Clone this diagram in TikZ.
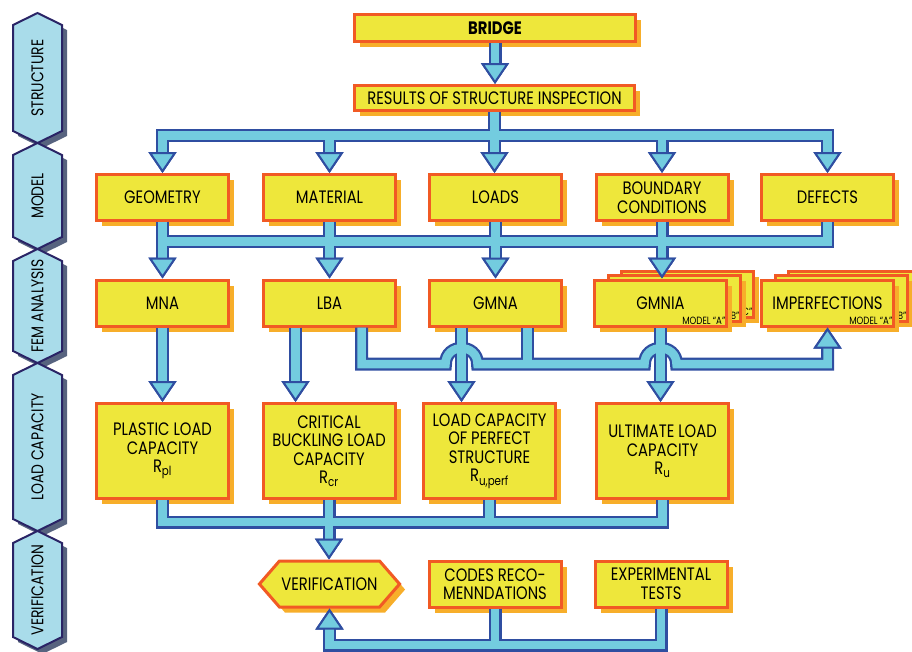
\documentclass[tikz,border=0pt]{standalone}
\usepackage{fontspec}
\setmainfont{Poppins}[FakeStretch=0.82]
\usetikzlibrary{arrows.meta,shadows,shapes.symbols,calc}

\definecolor{boxfill}{HTML}{EEE73B}
\definecolor{boxline}{HTML}{F15A24}
\definecolor{boxshade}{HTML}{F7AE2A}
\definecolor{pipefill}{HTML}{73CCDF}
\definecolor{pipeline}{HTML}{2F4EA1}
\definecolor{stagefill}{HTML}{A9DCEA}
\definecolor{stageline}{HTML}{2A2466}
\definecolor{stageshade}{HTML}{57637F}

\tikzset{
  block/.style={rectangle, fill=boxfill, draw=boxline, line width=3pt,
    minimum width=132pt, minimum height=46pt, inner sep=2pt, align=center,
    font=\fontsize{18}{18.5}\selectfont,
    drop shadow={shadow xshift=5.5pt, shadow yshift=-5.5pt, fill=boxshade, opacity=1}},
  tall/.style={minimum height=95pt},
  tag/.style={anchor=south east, inner sep=2.5pt, font=\fontsize{10.5}{10.5}\selectfont},
  stage/.style={draw=stageline, fill=stagefill, line width=2pt},
  stagelabel/.style={rotate=90, font=\fontsize{17}{18}\selectfont},
  pipe outer/.style={draw=pipeline, line width=13pt},
  pipe inner/.style={draw=pipefill, line width=8.5pt},
  pipe arrow/.style={-{Triangle[width=28pt, length=21pt, line width=2pt, color=pipeline, fill=pipefill]}},
  pipe/.style={pipe outer},
}

% one hexagon of the stage column, from top point to bottom point
\newcommand\stagehex[2]{(37.5,#1) -- (62,#1+12) -- (62,#2-12) -- (37.5,#2) -- (13,#2-12) -- (13,#1+12) -- cycle}

% all the blue conduits, drawn twice (border, then fill)
\newcommand\pipework{%
  % structure
  \draw[pipe, pipe arrow] (bridge.south) -- (bridge.south |- results.north);
  \draw[pipe, pipe arrow] (results.south) -- (results.south |- loads.north);
  \draw[pipe, pipe arrow] (results.south |- busA) -| (geometry.north);
  \draw[pipe, pipe arrow] (results.south |- busA) -| (defects.north);
  \draw[pipe, pipe arrow] (material.north |- busA) -- (material.north);
  \draw[pipe, pipe arrow] (boundary.north |- busA) -- (boundary.north);
  % model
  \draw[pipe] (defects.south) |- (geometry.south |- busB);
  \foreach \a/\b in {geometry/mna, material/lba, loads/gmna, boundary/gmnia}
    \draw[pipe, pipe arrow] (\a.south) -- (\a.south |- \b.north);
  % fem analysis
  \draw[pipe, pipe arrow] (mna.south) -- (mna.south |- plastic.north);
  \draw[pipe, pipe arrow] (lbaL) -- (lbaL |- critical.north);
  \draw[pipe, pipe arrow] (gmnaL) -- (gmnaL |- perfect.north);
  \draw[pipe, pipe arrow] (gmnia.south) -- (gmnia.south |- ultimate.north);
  \draw[pipe] (gmnaR) -- (gmnaR |- busC);
  \draw[pipe, pipe arrow] (lbaR) |- ($(hopA)+(-16,0)$)
    .. controls +(0,-21) and +(0,-21) .. ($(hopA)+(16,0)$)
    -- ($(hopB)+(-16,0)$)
    .. controls +(0,-21) and +(0,-21) .. ($(hopB)+(16,0)$)
    -| (imperf.south);
  % load capacity
  \draw[pipe] (plastic.south) |- (ultimate.south |- busD) -- (ultimate.south);
  \draw[pipe] (perfect.south) -- (perfect.south |- busD);
  \draw[pipe, pipe arrow] (critical.south) -- (critical.south |- verification.north);
  % verification
  \draw[pipe, pipe arrow] (experimental.south) |- (verification.south |- busE) -- (verification.south);
  \draw[pipe] (codes.south) -- (codes.south |- busE);
}

\begin{document}
\begin{tikzpicture}[x=1pt, y=-1pt]
  \useasboundingbox (0,0) rectangle (912,651);

  % stage column
  \foreach \ya/\yb in {13/143, 143/249, 249/363, 363/531, 531/649}
    \fill[stageshade, shift={(5,5)}] \stagehex{\ya}{\yb};
  \foreach \ya/\yb/\id/\txt in {13/143/stStructure/STRUCTURE, 143/249/stModel/MODEL,
      249/363/stFem/FEM ANALYSIS, 363/531/stCapacity/LOAD CAPACITY, 531/649/stCheck/VERIFICATION}
  {
    \draw[stage] \stagehex{\ya}{\yb};
    \node[stagelabel] (\id) at (37.5, {(\ya+\yb)/2}) {\txt};
  }

  % structure
  \node[block, minimum width=281pt, minimum height=27pt] (bridge) at (495,28) {\bfseries BRIDGE};
  \node[block, minimum width=280pt, minimum height=25pt] (results) at (494.5,98) {RESULTS OF STRUCTURE INSPECTION};

  % model
  \node[block] (geometry) at (162.5,197.5) {GEOMETRY};
  \node[block] (material) at (329.5,197.5) {MATERIAL};
  \node[block] (loads) at (495.5,197.5) {LOADS};
  \node[block] (boundary) at (662,197.5) {BOUNDARY\\CONDITIONS};
  \node[block] (defects) at (827.5,197.5) {DEFECTS};

  % fem analysis
  \node[block] (mna) at (162.5,303) {MNA};
  \node[block] (lba) at (329.5,303) {LBA};
  \node[block] (gmna) at (495.5,303) {GMNA};
  \foreach \m/\dx/\dy in {C/27/-9, B/14/-5}
    \node[block, label={[tag]south east:``\m''}] (gmnia\m) at ({660.5+\dx},{303+(\dy)}) {};
  \node[block, label={[tag]south east:MODEL ``A''}] (gmnia) at (660.5,303) {GMNIA};
  \foreach \m/\dx/\dy in {C/27/-9, B/14/-5}
    \node[block, label={[tag]south east:``\m''}] (imperf\m) at ({827.5+\dx},{303+(\dy)}) {};
  \node[block, label={[tag]south east:MODEL ``A''}] (imperf) at (827.5,303) {IMPERFECTIONS};

  % load capacity
  \node[block, tall] (plastic) at (162.5,451) {PLASTIC LOAD\\CAPACITY\\R\textsubscript{pl}};
  \node[block, tall] (critical) at (329,451) {CRITICAL\\BUCKLING LOAD\\CAPACITY\\R\textsubscript{cr}};
  \node[block, tall] (perfect) at (489.5,451) {LOAD CAPACITY\\OF PERFECT\\STRUCTURE\\R\textsubscript{u,perf}};
  \node[block, tall] (ultimate) at (662.5,451) {ULTIMATE LOAD\\CAPACITY\\R\textsubscript{u}};

  % verification
  \node[block, signal, signal to=west and east, signal pointer angle=98, minimum width=128pt] (verification) at (329.5,584) {VERIFICATION};
  \node[block] (codes) at (495,584) {CODES RECO-\\MENNDATIONS};
  \node[block] (experimental) at (661,584) {EXPERIMENTAL\\TESTS};

  % conduit levels and branch points
  \coordinate (busA) at (0,135.5);
  \coordinate (busB) at (0,241.5);
  \coordinate (busC) at (0,364);
  \coordinate (busD) at (0,522);
  \coordinate (busE) at (0,645);
  \coordinate (lbaL) at ($(lba.south)+(-34,0)$);
  \coordinate (lbaR) at ($(lba.south)+(32,0)$);
  \coordinate (gmnaL) at ($(gmna.south)+(-34,0)$);
  \coordinate (gmnaR) at ($(gmna.south)+(32,0)$);
  \coordinate (hopA) at (gmnaL |- busC);
  \coordinate (hopB) at (gmnia.south |- busC);

  % conduits: border pass, then fill pass
  \pipework
  \tikzset{pipe/.style={pipe inner}}
  \pipework
\end{tikzpicture}
\end{document}
